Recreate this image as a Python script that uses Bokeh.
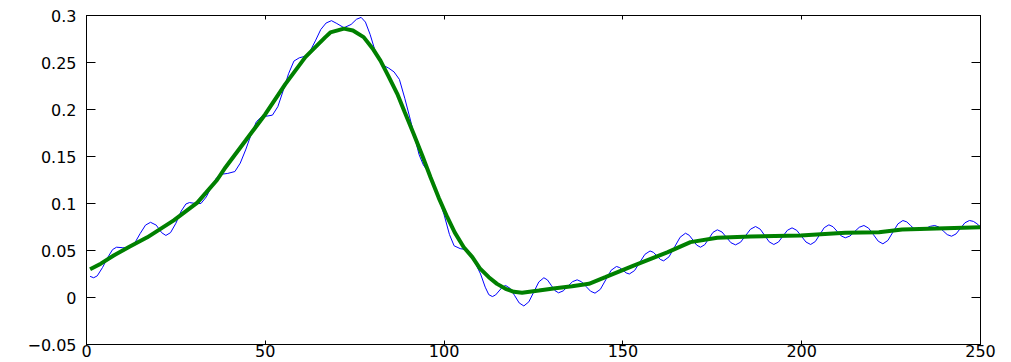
from bokeh.plotting import figure
from bokeh.models import Range1d, LinearAxis, FixedTicker
from bokeh.embed import file_html
from bokeh.resources import INLINE

# Raw (noisy) signal
raw_x = [1.0, 2.0, 3.0, 4.5, 6.0, 7.3, 8.4, 10.0, 11.8, 13.5, 15.0, 16.5, 17.9, 19.5,
         21.0, 22.2, 23.5, 25.0, 26.5, 27.8, 28.8, 30.5, 32.0, 33.5, 35.0, 36.3, 37.5,
         39.5, 41.5, 43.0, 44.5, 46.0, 47.5, 49.0, 50.5, 52.0, 53.5, 55.0, 56.5, 58.0,
         59.5, 61.0, 62.5, 64.0, 65.5, 67.0, 68.5, 70.0, 72.0, 74.0, 75.5, 76.8, 78.0,
         79.3, 80.5, 81.8, 83.0, 84.5, 86.0, 87.5, 89.0, 90.3, 91.7, 93.0, 94.2, 95.5,
         97.0, 98.5, 100.0, 101.5, 102.8, 104.5, 106.0, 107.5, 108.8, 110.2, 111.5,
         112.5, 113.5, 114.4, 115.35, 116.3, 117.2, 118.5, 119.75, 121.0, 122.3,
         123.7, 125.1, 126.5, 127.9, 128.9, 129.95, 131.0, 132.0, 133.3, 134.6, 135.9,
         137.2, 138.45, 139.7, 140.95, 142.2, 143.7, 145.2, 146.7, 148.2, 149.1, 150.0,
         150.9, 151.8, 153.25, 154.7, 156.15, 157.6, 158.55, 159.5, 160.45, 161.4,
         162.9, 164.45, 166.0, 167.5, 168.55, 169.6, 170.65, 171.7, 172.9, 174.05,
         175.2, 176.4, 177.7, 178.95, 180.2, 181.5, 182.9, 184.3, 185.7, 187.1, 188.4,
         189.65, 190.9, 192.2, 193.5, 194.75, 196.0, 197.3, 198.6, 199.9, 201.2, 202.5,
         203.8, 205.05, 206.3, 207.6, 208.75, 209.9, 211.05, 212.2, 213.5, 214.8,
         216.1, 217.4, 218.7, 220.05, 221.4, 222.7, 224.1, 225.5, 226.9, 228.3, 229.4,
         230.45, 231.5, 232.6, 233.75, 234.9, 236.05, 237.2, 238.4, 239.55, 240.7,
         241.9, 243.15, 244.4, 245.65, 246.9, 248.0, 249.0, 250.0]
raw_y = [0.0225, 0.0210, 0.0230, 0.032, 0.043, 0.051, 0.0535, 0.0530, 0.0525, 0.058,
         0.068, 0.077, 0.080, 0.077, 0.069, 0.066, 0.069, 0.079, 0.092, 0.0995, 0.1010,
         0.1000, 0.1000, 0.107, 0.118, 0.127, 0.1310, 0.1320, 0.1340, 0.143, 0.157,
         0.173, 0.187, 0.1925, 0.1930, 0.1940, 0.203, 0.220, 0.238, 0.2515, 0.2550,
         0.2565, 0.262, 0.273, 0.285, 0.2920, 0.2945, 0.2915, 0.2870, 0.2905, 0.2960,
         0.2980, 0.293, 0.280, 0.265, 0.253, 0.247, 0.244, 0.240, 0.232, 0.212, 0.193,
         0.172, 0.152, 0.141, 0.134, 0.123, 0.106, 0.088, 0.067, 0.055, 0.0520, 0.0510,
         0.046, 0.036, 0.025, 0.011, 0.003, 0.0010, 0.0027, 0.0069, 0.0111, 0.0128,
         0.0096, 0.0019, -0.0058, -0.0090, -0.0046, 0.0060, 0.0166, 0.0210, 0.0187,
         0.0130, 0.0073, 0.0050, 0.0070, 0.0119, 0.0168, 0.0188, 0.0167, 0.0117,
         0.0067, 0.0046, 0.0087, 0.0188, 0.0289, 0.0330, 0.0318, 0.0290, 0.0262,
         0.0250, 0.0286, 0.0373, 0.0459, 0.0495, 0.0480, 0.0443, 0.0405, 0.0390,
         0.0433, 0.0537, 0.0641, 0.0684, 0.0662, 0.0610, 0.0557, 0.0535, 0.0562,
         0.0628, 0.0693, 0.0720, 0.0697, 0.0640, 0.0583, 0.0560, 0.0588, 0.0658,
         0.0727, 0.0755, 0.0727, 0.0660, 0.0592, 0.0564, 0.0590, 0.0653, 0.0715,
         0.0741, 0.0715, 0.0653, 0.0590, 0.0564, 0.0595, 0.0669, 0.0743, 0.0773,
         0.0753, 0.0704, 0.0655, 0.0635, 0.0654, 0.0701, 0.0747, 0.0766, 0.0738,
         0.0669, 0.0599, 0.0571, 0.0607, 0.0695, 0.0783, 0.0819, 0.0804, 0.0766,
         0.0728, 0.0713, 0.0721, 0.0740, 0.0758, 0.0766, 0.0749, 0.0709, 0.0669,
         0.0652, 0.0676, 0.0736, 0.0795, 0.0819, 0.0810, 0.0785, 0.0750]

# Smoothed signal
smooth_x = [1.0, 4.0, 7.6, 12.0, 17.0, 24.4, 31.0, 33.3, 36.5, 38.9, 44.5, 50.0, 55.6,
            61.2, 66.8, 68.2, 72.0, 74.5, 77.5, 80.0, 82.2, 84.5, 86.9, 89.0, 91.5,
            94.0, 96.2, 98.5, 100.9, 103.0, 105.5, 107.9, 110.0, 112.5, 114.8, 117.2,
            119.5, 121.8, 126.5, 131.1, 135.8, 140.5, 145.1, 153.0, 162.4, 168.9,
            176.4, 185.7, 199.7, 212.2, 221.6, 228.1, 240.2, 250.0]
smooth_y = [0.030, 0.036, 0.0447, 0.054, 0.064, 0.082, 0.101, 0.111, 0.125, 0.1386,
            0.167, 0.195, 0.227, 0.2557, 0.277, 0.282, 0.286, 0.284, 0.277, 0.265,
            0.252, 0.235, 0.2167, 0.197, 0.174, 0.150, 0.128, 0.106, 0.0854, 0.069,
            0.0535, 0.0429, 0.031, 0.0216, 0.0145, 0.0092, 0.006, 0.005, 0.0074, 0.0099,
            0.012, 0.0146, 0.0216, 0.034, 0.048, 0.0589, 0.0635, 0.0649, 0.066, 0.0688,
            0.0695, 0.0723, 0.0737, 0.0748]

x_ticks = [0, 50, 100, 150, 200, 250]
y_ticks = [-0.05, 0, 0.05, 0.1, 0.15, 0.2, 0.25, 0.3]
y_tick_labels = ["\u22120.05", "0", "0.05", "0.1", "0.15", "0.2", "0.25", "0.3"]

FONT = "DejaVu Sans"

p = figure(width=1011, height=362, output_backend="svg", toolbar_location=None,
           x_range=Range1d(0, 250), y_range=Range1d(-0.05, 0.3),
           min_border_left=86, min_border_right=31, min_border_top=15,
           min_border_bottom=18)
p.grid.visible = False
p.outline_line_color = "black"
p.outline_line_width = 1
p.background_fill_color = "white"
p.border_fill_color = "white"

p.line(raw_x, raw_y, line_color="#0000ff", line_width=1)
p.line(smooth_x, smooth_y, line_color="#008000", line_width=4)

bottom = p.below[0]
left = p.left[0]
top = LinearAxis()
right = LinearAxis()
p.add_layout(top, "above")
p.add_layout(right, "right")

for ax in [bottom, top]:
    ax.ticker = FixedTicker(ticks=x_ticks)
    ax.major_tick_in = 4
for ax in [left, right]:
    ax.ticker = FixedTicker(ticks=y_ticks)
    ax.major_tick_in = 9

for ax in [bottom, left, top, right]:
    ax.major_tick_out = 0
    ax.minor_tick_line_color = None
    ax.axis_line_color = "black"
    ax.major_tick_line_color = "black"
    ax.major_label_text_font = FONT
    ax.major_label_text_font_size = "16px"
    ax.major_label_text_color = "black"

left.major_label_overrides = dict(zip(y_ticks, y_tick_labels))
left.major_label_standoff = 10
bottom.major_label_standoff = 0

# The top and right axes only carry inward ticks
for ax in [top, right]:
    ax.major_label_text_font_size = "0px"
    ax.major_label_text_color = None
    ax.major_label_standoff = 0

open("out.html", "w").write(file_html(p, INLINE))
